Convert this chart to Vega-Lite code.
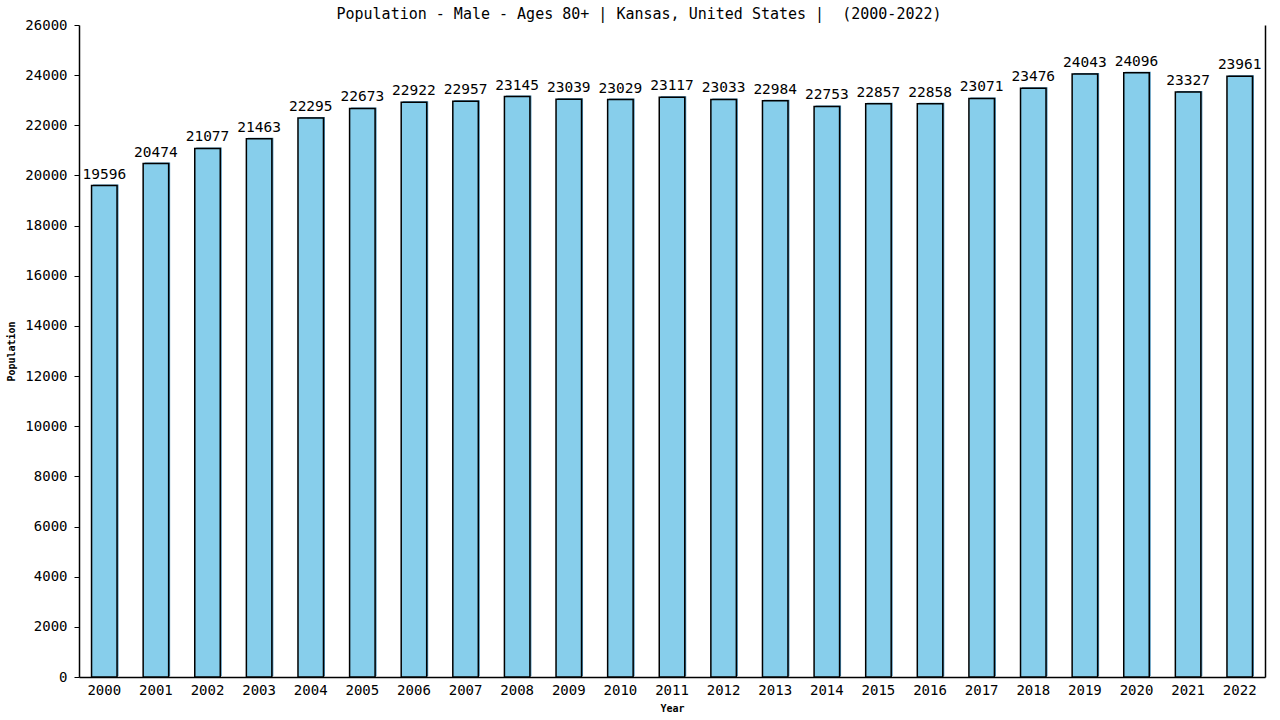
{
  "$schema": "https://vega.github.io/schema/vega-lite/v6.json",
  "autosize": {"type": "none"},
  "width": 1186,
  "height": 652,
  "padding": {"left": 79, "top": 25, "right": 15, "bottom": 43},
  "background": "white",
  "title": {
    "text": "Population - Male - Ages 80+ | Kansas, United States | \u00a0(2000-2022)",
    "font": "DejaVu Sans Mono",
    "fontSize": 15,
    "fontWeight": "normal",
    "anchor": "middle",
    "dx": -33,
    "dy": 8,
    "offset": 4
  },
  "data": {
    "values": [
      {"Year": "2000", "Population": 19596},
      {"Year": "2001", "Population": 20474},
      {"Year": "2002", "Population": 21077},
      {"Year": "2003", "Population": 21463},
      {"Year": "2004", "Population": 22295},
      {"Year": "2005", "Population": 22673},
      {"Year": "2006", "Population": 22922},
      {"Year": "2007", "Population": 22957},
      {"Year": "2008", "Population": 23145},
      {"Year": "2009", "Population": 23039},
      {"Year": "2010", "Population": 23029},
      {"Year": "2011", "Population": 23117},
      {"Year": "2012", "Population": 23033},
      {"Year": "2013", "Population": 22984},
      {"Year": "2014", "Population": 22753},
      {"Year": "2015", "Population": 22857},
      {"Year": "2016", "Population": 22858},
      {"Year": "2017", "Population": 23071},
      {"Year": "2018", "Population": 23476},
      {"Year": "2019", "Population": 24043},
      {"Year": "2020", "Population": 24096},
      {"Year": "2021", "Population": 23327},
      {"Year": "2022", "Population": 23961}
    ]
  },
  "encoding": {
    "x": {
      "field": "Year",
      "type": "ordinal",
      "scale": {"paddingInner": 0.506, "paddingOuter": 0.243},
      "axis": {
        "title": "Year",
        "titleFont": "DejaVu Sans Mono",
        "titleFontSize": 10,
        "titleFontWeight": "bold",
        "titlePadding": 6,
        "labelAngle": 0,
        "labelFont": "DejaVu Sans Mono",
        "labelFontSize": 14,
        "labelColor": "black",
        "labelPadding": 6,
        "ticks": false,
        "domainColor": "black",
        "domainWidth": 1.5
      }
    }
  },
  "layer": [
    {
      "mark": {"type": "bar", "fill": "#4a8fb8", "xOffset": 1.5, "yOffset": -1},
      "encoding": {
        "y": {
          "field": "Population",
          "type": "quantitative",
          "scale": {"domain": [0, 26000], "nice": false},
          "axis": {
            "title": "Population",
            "titleFont": "DejaVu Sans Mono",
            "titleFontSize": 10,
            "titleFontWeight": "bold",
            "titlePadding": 8,
            "labelFont": "DejaVu Sans Mono",
            "labelFontSize": 14,
            "labelColor": "black",
            "labelPadding": 7,
            "format": "d",
            "values": [0, 2000, 4000, 6000, 8000, 10000, 12000, 14000, 16000, 18000, 20000, 22000, 24000, 26000],
            "tickSize": 5,
            "tickColor": "black",
            "domainColor": "black",
            "domainWidth": 1.5,
            "grid": false
          }
        }
      }
    },
    {
      "mark": {"type": "bar", "fill": "#87CEEB", "stroke": "black", "strokeWidth": 1.5},
      "encoding": {
        "y": {
          "field": "Population",
          "type": "quantitative",
          "axis": {
            "orient": "right",
            "title": null,
            "labels": false,
            "ticks": false,
            "grid": false,
            "domainColor": "black",
            "domainWidth": 1.5
          }
        }
      }
    },
    {
      "mark": {"type": "text", "baseline": "bottom", "dy": -4, "font": "DejaVu Sans Mono", "fontSize": 14.5, "color": "black"},
      "encoding": {
        "y": {"field": "Population", "type": "quantitative", "axis": null},
        "text": {"field": "Population", "type": "quantitative", "format": "d"}
      }
    }
  ],
  "resolve": {"axis": {"y": "independent"}},
  "config": {
    "view": {"stroke": null}
  }
}
